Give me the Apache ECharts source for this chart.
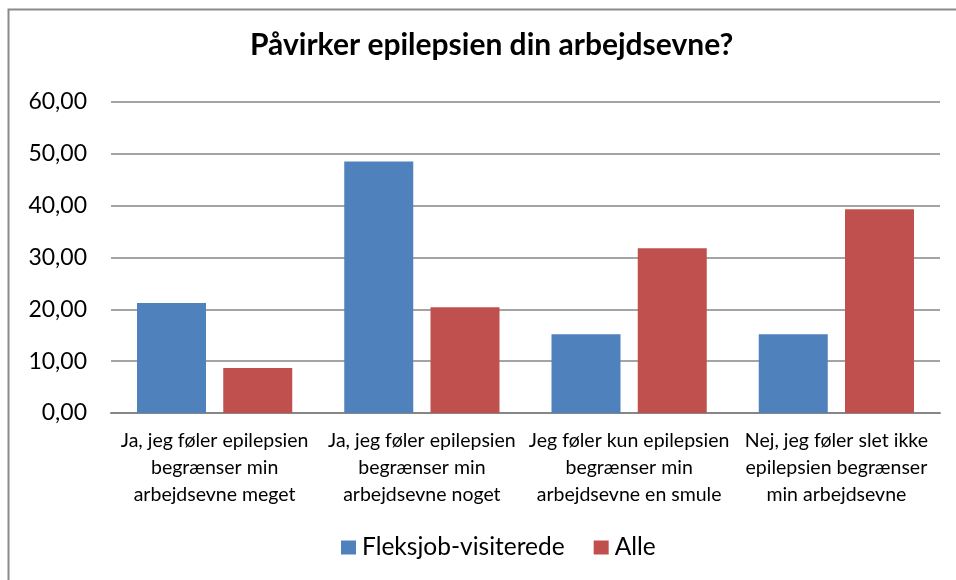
<!DOCTYPE html>
<html>
<head>
<meta charset="utf-8">
<script src="https://cdn.jsdelivr.net/npm/echarts@6/dist/echarts.min.js"></script>
<style>
    html, body { margin: 0; padding: 0; background: #fff; }
    #chart { width: 956px; height: 580px; }
</style>
</head>
<body>
<div id="chart"></div>
<script>
// kategorier (linjeskift som i originalen)
const categories = [
    'Ja, jeg føler epilepsien\nbegrænser min\narbejdsevne meget',
    'Ja, jeg føler epilepsien\nbegrænser min\narbejdsevne noget',
    'Jeg føler kun epilepsien\nbegrænser min\narbejdsevne en smule',
    'Nej, jeg føler slet ikke\nepilepsien begrænser\nmin arbejdsevne',
];
const seriesNames = ['Fleksjob-visiterede', 'Alle'];
const fleksjobValues = [21.2, 48.5, 15.2, 15.2];
const alleValues = [8.7, 20.4, 31.8, 39.3];

const font = 'Lato, "Open Sans", sans-serif';
const chart = echarts.init(document.getElementById('chart'));

const option = {
    backgroundColor: '#fff',
    color: ['#4F81BD', '#C0504D'],
    animation: false,
    title: {
        text: 'Påvirker epilepsien din arbejdsevne?',
        left: 245,
        top: 25,
        textStyle: { fontFamily: font, fontWeight: 'bold', fontSize: 30, color: '#000' },
    },
    graphic: [
        {
            // rammen ses kun øverst og til venstre
            type: 'rect',
            shape: { x: 8.5, y: 9.5, width: 1000, height: 700 },
            style: { fill: 'none', stroke: '#8a8a8a', lineWidth: 2 },
            silent: true,
        },
    ],
    legend: {
        top: 530,
        left: 336,
        itemWidth: 15,
        itemHeight: 14,
        itemGap: 29,
        icon: 'rect',
        textStyle: { fontFamily: font, fontSize: 24.5, color: '#000', padding: [0, 0, 0, 1] },
        data: seriesNames,
    },
    grid: { left: 111, right: 16, top: 102, bottom: 167 },
    xAxis: {
        type: 'category',
        data: categories,
        axisLine: { lineStyle: { color: '#868686', width: 2 } },
        axisTick: { show: false },
        axisLabel: {
            interval: 0,
            margin: 14,
            fontFamily: font,
            fontSize: 19.5,
            lineHeight: 27,
            color: '#000',
        },
    },
    yAxis: {
        type: 'value',
        min: 0,
        max: 60,
        interval: 10,
        axisLine: { show: false },
        axisTick: { show: false },
        splitLine: { lineStyle: { color: '#868686', width: 1.5 } },
        axisLabel: {
            margin: 24,
            fontFamily: font,
            fontSize: 23,
            color: '#000',
            formatter: (v) => v.toFixed(2).replace('.', ','),
        },
    },
    series: [
        {
            name: seriesNames[0],
            type: 'bar',
            data: fleksjobValues,
            barWidth: 69,
            barGap: '25%',
        },
        {
            name: seriesNames[1],
            type: 'bar',
            data: alleValues,
            barWidth: 69,
            barGap: '25%',
        },
    ],
};
chart.setOption(option);
</script>
</body>
</html>
